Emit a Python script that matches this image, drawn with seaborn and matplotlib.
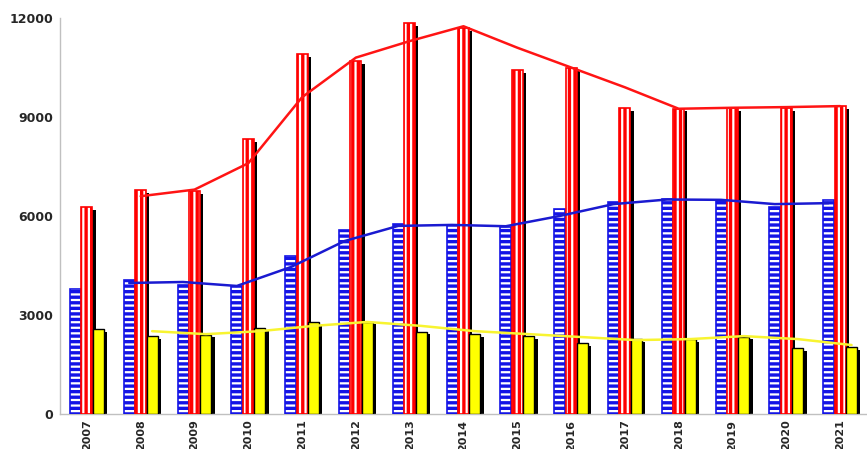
import matplotlib
matplotlib.use("Agg")
import matplotlib.pyplot as plt
import pandas as pd
import seaborn as sns

# Values
years = [str(y) for y in range(2007, 2022)]
blue_vals = [3800, 4060, 3900, 3880, 4790, 5580, 5760, 5720, 5660, 6200,
             6420, 6520, 6460, 6260, 6490]
red_vals = [6270, 6790, 6760, 8330, 10900, 10700, 11850, 11690, 10420, 10480,
            9270, 9250, 9270, 9270, 9330]
yellow_vals = [2580, 2360, 2400, 2600, 2790, 2800, 2490, 2420, 2360, 2150,
               2270, 2270, 2340, 2000, 2030]

# Trend lines (start at 2008)
line_years = years[1:]
red_line = [6600, 6800, 7600, 9600, 10800, 11300, 11750, 11100, 10500, 9900,
            9250, 9280, 9300, 9330]
blue_line = [3970, 4000, 3880, 4450, 5240, 5700, 5730, 5690, 6000, 6360,
             6500, 6490, 6360, 6390]
yellow_line = [2510, 2420, 2510, 2670, 2790, 2670, 2510, 2420, 2330, 2240,
               2270, 2360, 2270, 2090]

series_names = ["blue", "red", "yellow"]

sns.set_style("white")
plt.rcParams["font.family"] = ["DejaVu Sans"]
plt.rcParams["hatch.linewidth"] = 2.4


def main():
    df = pd.DataFrame({
        "year": years * 3,
        "value": blue_vals + red_vals + yellow_vals,
        "series": (["blue"] * len(years) + ["red"] * len(years)
                   + ["yellow"] * len(years)),
    })

    fig = plt.figure(figsize=(8.67, 4.49), dpi=100)
    ax = fig.add_axes([60 / 867, 35 / 449, 807 / 867, 396 / 449])

    sns.barplot(data=df, x="year", y="value", hue="series",
                hue_order=series_names, order=years, width=0.64, gap=0.04,
                palette={"blue": "white", "red": "white", "yellow": "#ffff00"},
                saturation=1, legend=False, ax=ax, zorder=3)

    styles = {
        "blue": dict(edgecolor="#1414e6", hatch="---", lw=1.2),
        "red": dict(edgecolor="#ff0000", hatch="|||", lw=1.2),
        "yellow": dict(edgecolor="black", hatch=None, lw=1.0),
    }
    centers = {}
    for name, cont in zip(series_names, ax.containers):
        centers[name] = []
        for p in cont.patches:
            st = styles[name]
            p.set_edgecolor(st["edgecolor"])
            p.set_linewidth(st["lw"])
            if st["hatch"]:
                p.set_hatch(st["hatch"])
            # drop shadow behind each bar
            ax.bar(p.get_x() + 0.06, p.get_height() - 80, bottom=0,
                   width=p.get_width(), align="edge", color="black",
                   zorder=2, linewidth=0)
            centers[name].append(p.get_x() + p.get_width() / 2)

    ax.plot(centers["red"][1:], red_line, color="#ff1414", lw=1.8, zorder=5)
    ax.plot(centers["blue"][1:], blue_line, color="#1a1ad0", lw=1.8, zorder=5)
    ax.plot(centers["yellow"][1:], yellow_line, color="#f8f430", lw=1.8,
            zorder=5)

    ax.set_xlim(-0.46, 14.35)
    ax.set_ylim(0, 12000)
    ax.set_yticks([0, 3000, 6000, 9000, 12000])
    ax.set_yticklabels(["0", "3000", "6000", "9000", "12000"],
                       fontweight="bold", fontsize=9)
    ax.set_xticks(range(len(years)))
    ax.set_xticklabels(years, rotation=90, fontweight="bold", fontsize=8)
    ax.set_xticks([i + 0.5 for i in range(-1, len(years))], minor=True)
    ax.tick_params(axis="x", which="major", length=0, pad=4)
    ax.tick_params(axis="x", which="minor", length=3, color="#bbbbbb",
                   direction="out")
    ax.tick_params(axis="y", length=3, color="#bbbbbb", direction="out", pad=2)
    ax.set_xlabel("")
    ax.set_ylabel("")
    for side in ["top", "right"]:
        ax.spines[side].set_visible(False)
    for side in ["left", "bottom"]:
        ax.spines[side].set_color("#c0c0c0")
        ax.spines[side].set_linewidth(1)
    ax.grid(False)

    fig.savefig("out.png", dpi=100)
    plt.close(fig)


if __name__ == "__main__":
    main()
